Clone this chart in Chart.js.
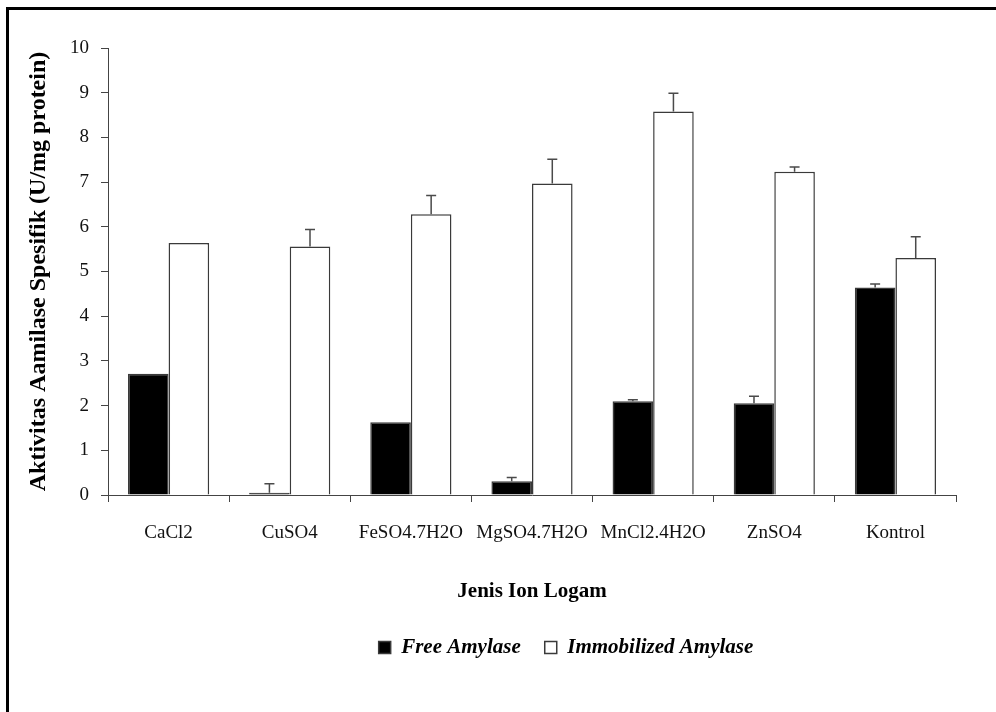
<!DOCTYPE html>
<html>
<head>
<meta charset="utf-8">
<script src="https://cdn.jsdelivr.net/npm/chart.js@4/dist/chart.umd.min.js"></script>
<style>
    html, body { margin: 0; padding: 0; background: #fff; }
    #wrap { position: relative; width: 996px; height: 712px; overflow: hidden; }
    #frame {
        position: absolute; left: 6px; top: 7px; width: 1200px; height: 800px;
        border-left: 3px solid #000; border-top: 3px solid #000;
        box-sizing: border-box; pointer-events: none;
    }
    canvas { position: absolute; left: 0; top: 0; }
</style>
</head>
<body>
<div id="wrap">
    <canvas id="chart" width="996" height="712"></canvas>
    <div id="frame"></div>
</div>
<script>
// Data
const categories = ['CaCl2', 'CuSO4', 'FeSO4.7H2O', 'MgSO4.7H2O', 'MnCl2.4H2O', 'ZnSO4', 'Kontrol'];
const freeValues = [2.71, 0.05, 1.63, 0.31, 2.10, 2.05, 4.64];
const freeErrors = [0, 0.20, 0, 0.08, 0.03, 0.16, 0.08];
const immobValues = [5.64, 5.56, 6.28, 6.97, 8.58, 7.23, 5.30];
const immobErrors = [0, 0.38, 0.42, 0.54, 0.41, 0.11, 0.48];
const yTicks = [0, 1, 2, 3, 4, 5, 6, 7, 8, 9, 10];

const serif = "'Liberation Serif', 'Times New Roman', serif";
const LEGEND_SHIFT = 34;

// upper error bars, drawn from the bar scale
const errorBars = {
    id: 'errorBars',
    afterDatasetsDraw(chart) {
        const ctx = chart.ctx;
        const y = chart.scales.y;
        chart.data.datasets.forEach((ds, i) => {
            const meta = chart.getDatasetMeta(i);
            meta.data.forEach((bar, j) => {
                const err = ds.errors[j];
                if (!err) return;
                const top = y.getPixelForValue(ds.data[j] + err);
                ctx.save();
                ctx.strokeStyle = '#4a4a4a';
                ctx.lineWidth = 1.5;
                ctx.beginPath();
                ctx.moveTo(bar.x, bar.y);
                ctx.lineTo(bar.x, top);
                ctx.moveTo(bar.x - 5, top);
                ctx.lineTo(bar.x + 5, top);
                ctx.stroke();
                ctx.restore();
            });
        });
    }
};

// legend sits a little right of centre in the original
const legendShift = {
    id: 'legendShift',
    afterLayout(chart) {
        chart.legend.left += LEGEND_SHIFT;
        chart.legend.right += LEGEND_SHIFT;
    }
};

new Chart(document.getElementById('chart'), {
    type: 'bar',
    data: {
        labels: categories,
        datasets: [{
            label: 'Free Amylase',
            data: freeValues,
            errors: freeErrors,
            backgroundColor: '#000',
            borderColor: '#3a3a3a',
            borderWidth: 1.5,
            categoryPercentage: 0.67,
            barPercentage: 1.0
        }, {
            label: 'Immobilized Amylase',
            data: immobValues,
            errors: immobErrors,
            backgroundColor: '#fff',
            borderColor: '#3a3a3a',
            borderWidth: 1.5,
            categoryPercentage: 0.67,
            barPercentage: 1.0
        }]
    },
    options: {
        responsive: false,
        animation: false,
        devicePixelRatio: 1,
        layout: { padding: { left: 20, right: 40, top: 48, bottom: 44 } },
        plugins: {
            tooltip: { enabled: false },
            legend: {
                position: 'bottom',
                fullSize: false,
                labels: {
                    boxWidth: 12,
                    boxHeight: 12,
                    padding: 24,
                    color: '#000',
                    font: { family: serif, size: 21, weight: 'bold', style: 'italic' }
                }
            }
        },
        scales: {
            x: {
                grid: { drawOnChartArea: false, tickLength: 7, color: '#444', offset: true },
                border: { color: '#444', width: 1 },
                ticks: { color: '#111', padding: 20, font: { family: serif, size: 19 } },
                title: {
                    display: true,
                    text: 'Jenis Ion Logam',
                    color: '#000',
                    padding: { top: 0, bottom: 9 },
                    font: { family: serif, size: 21, weight: 'bold' }
                },
                afterFit(scale) { scale.height = 118; }
            },
            y: {
                min: 0,
                max: 10,
                afterBuildTicks(scale) { scale.ticks = yTicks.map(v => ({ value: v })); },
                grid: { drawOnChartArea: false, tickLength: 7, color: '#444' },
                border: { color: '#444', width: 1 },
                ticks: { color: '#111', padding: 12, font: { family: serif, size: 19 } },
                title: {
                    display: true,
                    text: 'Aktivitas Aamilase Spesifik (U/mg protein)',
                    color: '#000',
                    padding: { top: 4, bottom: 4 },
                    font: { family: serif, size: 24, weight: 'bold' }
                },
                afterFit(scale) { scale.width = 88; }
            }
        }
    },
    plugins: [errorBars, legendShift]
});
</script>
</body>
</html>
